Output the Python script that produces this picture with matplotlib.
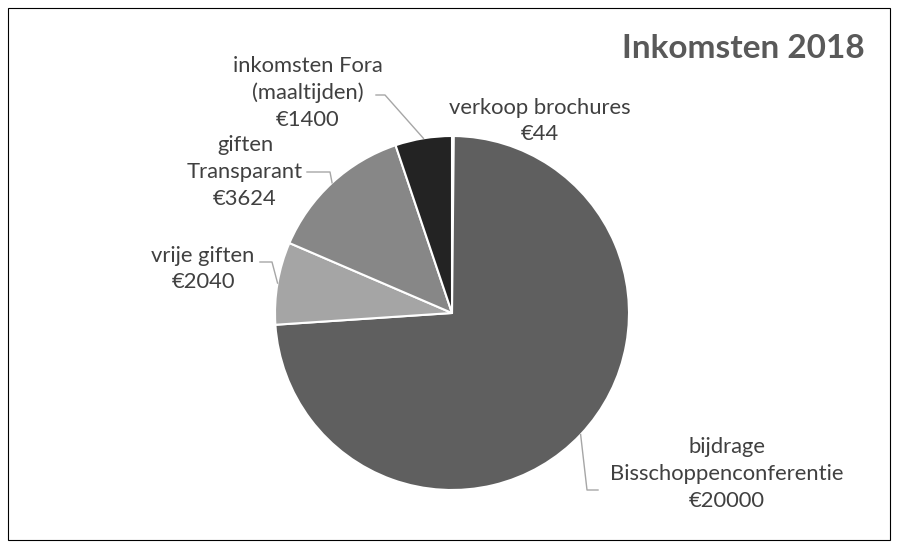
import matplotlib.pyplot as plt
import numpy as np
from matplotlib.patches import Rectangle

labels = ["verkoop brochures", "bijdrage\nBisschoppenconferentie", "vrije giften",
          "giften\nTransparant", "inkomsten Fora\n(maaltijden)"]
values = [44, 20000, 2040, 3624, 1400]
colors = ["#d0d0d0", "#5f5f5f", "#a5a5a5", "#878787", "#232323"]

plt.rcParams['font.family'] = ['Lato', 'DejaVu Sans']

fig = plt.figure(figsize=(8.98, 5.48), dpi=100)
# pie centre ~ (452, 313) px, radius ~177 px
cx, cy, r = 452 / 898, 1 - 313 / 548, 177
ax = fig.add_axes([cx - r / 898, cy - r / 548, 2 * r / 898, 2 * r / 548])
wedges, _ = ax.pie(values, colors=colors, startangle=90, counterclock=False,
                   wedgeprops=dict(edgecolor="white", linewidth=1.5))
ax.set_xlim(-1, 1)
ax.set_ylim(-1, 1)
ax.set_aspect("equal")

def px(x, y):
    # pixel -> data coords
    return (x - 452) / r, (313 - y) / r

# label positions (pixel centre of text block) and leader elbows
lab_pos = [(540, 121), (727, 474), (203, 269), (245, 172), (308, 93)]
elbows = [None, [(587, 490), (598, 490)], [(272, 262), (260, 262)],
          [(330, 172), (307, 172)], [(385, 95), (376, 95)]]

for w, lab, v, pos, el in zip(wedges, labels, values, lab_pos, elbows):
    x, y = px(*pos)
    ax.text(x, y, f"{lab}\n€{v}", ha="center", va="center", fontsize=15.8,
            color="#404040", linespacing=1.42, clip_on=False)
    if el is not None:
        ang = np.deg2rad((w.theta1 + w.theta2) / 2)
        pts = [(np.cos(ang), np.sin(ang))] + [px(*p) for p in el]
        xs, ys = zip(*pts)
        ax.plot(xs, ys, color="#a6a6a6", lw=1, clip_on=False)

fig.text(743 / 898, 1 - 49 / 548, "Inkomsten 2018", ha="center", va="center",
         fontsize=24, fontweight="bold", color="#595959")

fig.patches.append(Rectangle((8 / 898, 8 / 548), 882 / 898, 532 / 548,
                             transform=fig.transFigure, fill=False,
                             edgecolor="black", lw=0.8))

fig.savefig("out.png", dpi=100)
